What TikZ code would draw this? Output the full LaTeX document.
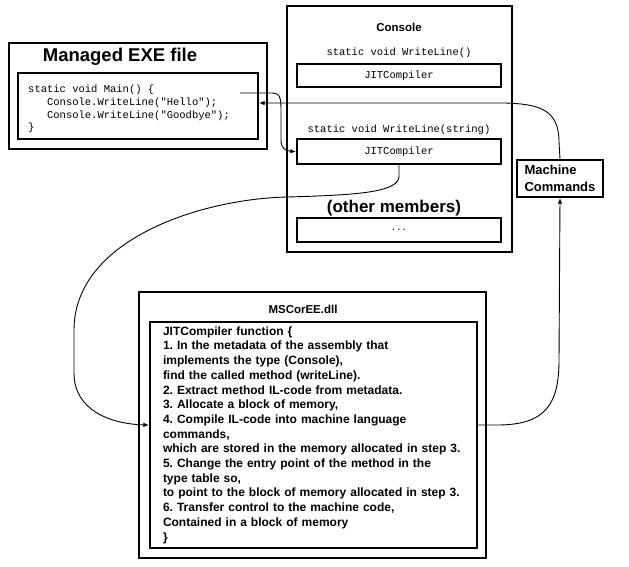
\documentclass[tikz,border=0pt]{standalone}
\usepackage{fontspec}
\setmainfont{Liberation Sans}
\setmonofont{Liberation Mono}
\usetikzlibrary{arrows.meta,positioning}
\frenchspacing

\begin{document}
\begin{tikzpicture}[x=1pt,y=-1pt,node distance=26pt,
  box/.style={draw,line width=2.2pt,inner sep=0pt},
  conn/.style={line width=0.9pt,-{Latex[length=5.5pt,width=4.5pt]}},
  mono/.style={font=\ttfamily\fontsize{10.5}{12.8}\selectfont},
  heading/.style={font=\bfseries\fontsize{11.5}{13}\selectfont}]
\useasboundingbox (0,0) rectangle (629,566);
% managed exe
\node[box,minimum width=258,minimum height=106] (exe) at (138,96) {};
\node[font=\bfseries\fontsize{18.5}{20}\selectfont] (exetitle) at (120,57) {Managed EXE file};
\node[box,minimum width=240,minimum height=66] (code) at (138,106) {};
\node[mono,align=left,anchor=west,inner sep=0pt] (codetext) at (28,109)
  {static void Main() \{\\
   \hspace*{18.9pt}Console.WriteLine("Hello");\\
   \hspace*{18.9pt}Console.WriteLine("Goodbye");\\
   \}};
% console class
\node[box,minimum width=225,minimum height=246] (console) at (399.5,129) {};
\node[heading] (ctitle) at (399,27) {Console};
\node[mono] (sig1) [below of=ctitle] {static void WriteLine()};
\node[box,minimum width=204,minimum height=23,mono] (jit1) at (399,75.5) {JITCompiler};
\node[mono] (sig2) at (399,130) {static void WriteLine(string)};
\node[box,minimum width=204,minimum height=25,mono] (jit2) [below of=sig2,node distance=21.5pt] {JITCompiler};
\node[font=\bfseries\fontsize{17}{19}\selectfont] (other) at (394,208) {(other members)};
\node[box,minimum width=204,minimum height=24,font=\ttfamily\fontsize{9}{9}\selectfont] (dots) at (399,230) {...};
% machine commands
\node[box,minimum width=86,minimum height=37,align=left,font=\bfseries\fontsize{13}{17}\selectfont] (mc) at (560,178.5) {Machine\\Commands};
% mscoree
\node[box,minimum width=347,minimum height=266] (mscoree) at (312.5,425) {};
\node[heading] (mtitle) at (303,309) {MSCorEE.dll};
\node[box,minimum width=327,minimum height=226,text width=301,align=left,
  font=\bfseries\fontsize{12}{14.7}\selectfont] (body) at (313.5,435)
  {JITCompiler function \{\\
   1. In the metadata of the assembly that\\
   implements the type (Console),\\
   find the called method (writeLine).\\
   2. Extract method IL-code from metadata.\\
   3. Allocate a block of memory,\\
   4. Compile IL-code into machine language\\
   commands,\\
   which are stored in the memory allocated in step 3.\\
   5. Change the entry point of the method in the\\
   type table so,\\
   to point to the block of memory allocated in step 3.\\
   6. Transfer control to the machine code,\\
   Contained in a block of memory\\
   \}};
% connectors
\coordinate (call) at (240,93);
\draw[conn] (call) -- (272,93) .. controls (281,93) and (281,100) .. (281,112)
  -- (281,140) .. controls (281,148) and (285,151) .. (jit2.west);
\draw[conn] (mc.north) -- (559,142) .. controls (559,110) and (540,104) .. (505,103)
  -- ([yshift=3pt]code.east);
\draw[conn] (jit2.south) -- (399,176) .. controls (399,192) and (360,195) .. (287,197)
  .. controls (200,199) and (74,240) .. (74,330) -- (74,373)
  .. controls (74,410) and (110,424) .. ([yshift=10pt]body.west);
\draw[conn] ([yshift=10pt]body.east) -- (497,425) .. controls (545,425) and (559,405) .. (559,360)
  -- (mc.south);
\end{tikzpicture}
\end{document}
